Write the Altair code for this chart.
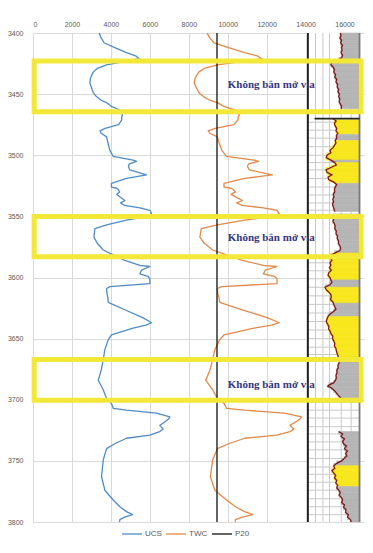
import altair as alt
import pandas as pd

# ---------------- data ----------------
X_MAX = 17000
DEPTH_TICKS = [3400, 3450, 3500, 3550, 3600, 3650, 3700, 3750, 3800]
X_TICKS = [0, 2000, 4000, 6000, 8000, 10000, 12000, 14000, 16000]

depth = [3400, 3404, 3408, 3412, 3416, 3419, 3421, 3423, 3426, 3429, 3432, 3437, 3441, 3445,
         3449, 3452, 3455, 3457, 3460, 3463, 3467, 3469, 3471, 3475, 3478, 3480, 3482, 3485,
         3490, 3496, 3501, 3504, 3505, 3507, 3509, 3512, 3516, 3517.5, 3519, 3523, 3526, 3527,
         3528, 3530, 3532, 3534, 3537, 3539, 3541, 3543, 3545, 3547.5, 3550, 3553, 3557, 3560,
         3564, 3567, 3572, 3577.5, 3581.5, 3586, 3590, 3591, 3594, 3597, 3599, 3601, 3605,
         3607.5, 3609, 3613, 3617, 3620, 3621, 3627, 3633, 3637, 3639, 3641.5, 3647, 3651,
         3659, 3667, 3676, 3684, 3692, 3699, 3703, 3707, 3708.5, 3711, 3714, 3716, 3719, 3721,
         3724, 3726, 3729, 3731.5, 3736, 3740, 3749, 3763, 3774, 3782, 3787.5, 3791.5, 3794,
         3796, 3798, 3800]
ucs = [3400, 3500, 3650, 4200, 4800, 5300, 5450, 4800, 3780, 3300, 3090, 2950, 2920, 3010,
       3100, 3260, 3500, 3780, 4030, 4460, 4600, 4550, 4560, 4400, 3700, 3440, 3500, 3780,
       3850, 3950, 4120, 5140, 5320, 4950, 4900, 4970, 5830, 5320, 4800, 4030, 4030, 4300,
       4380, 4450, 4300, 4460, 4720, 4500, 4700, 5490, 6000, 6090, 5910, 4800, 3780, 3180,
       3150, 3130, 3300, 3610, 4120, 4720, 5490, 6000, 5570, 5490, 5900, 6000, 6000,
       3950, 3780, 3800, 3850, 3860, 3950, 4800, 5660, 6090, 5800, 5140, 4030, 3860,
       3690, 3610, 3500, 3350, 3610, 3780, 4030, 4120, 4800, 6340, 7030, 6950, 6690, 6510,
       6690, 6510, 6000, 4800, 4200, 3780, 3610, 3520, 3690, 4120, 4460, 4800, 5110,
       4700, 4460, 4450]
twc = [8940, 9080, 9290, 10050, 10870, 11560, 11750, 10870, 9470, 8800, 8510, 8320, 8280, 8400,
       8530, 8750, 9080, 9470, 9810, 10400, 10600, 10530, 10540, 10320, 9360, 9000, 9080, 9470,
       9560, 9700, 9940, 11340, 11590, 11080, 11010, 11110, 12300, 11590, 10870, 9810, 9810, 10180,
       10290, 10390, 10180, 10400, 10760, 10460, 10740, 11830, 12530, 12650, 12410, 10870, 9470, 8640,
       8600, 8570, 8800, 9230, 9940, 10760, 11830, 12530, 11940, 11830, 12390, 12530, 12530,
       9700, 9470, 9490, 9560, 9580, 9700, 10870, 12060, 12650, 12250, 11340, 9810, 9580,
       9340, 9230, 9080, 8870, 9230, 9470, 9810, 9940, 10870, 12900, 13800, 13700, 13400, 13200,
       13400, 13200, 12530, 10870, 10050, 9470, 9230, 9110, 9340, 9940, 10400, 10870, 11300,
       10740, 10400, 10390]
p20 = 9450
series_names = ["UCS", "TWC", "P20"]
series_colors = ["#4f8bc9", "#e3894a", "#111111"]

# log strip (image track on the right)
strip_left, strip_right = 14120, 16770
strip_vlines = [14510, 14890, 15230, 15830, 16340]
strip_hlines = [3473, 3479.5, 3486, 3493, 3500, 3506, 3512, 3519, 3526, 3532.5, 3539, 3545,
                3588, 3594.5, 3601, 3608, 3615, 3622, 3629, 3636, 3643, 3650, 3657, 3663,
                3702, 3708.5, 3715, 3722, 3728, 3734.5, 3741, 3748, 3755, 3761, 3767.5, 3774,
                3781, 3787.5, 3794]
spike_depth, spike_from = 3470, 14460

log_depth_a = [3400, 3402, 3404, 3406, 3408, 3410, 3412, 3414, 3416, 3418, 3420, 3422, 3424, 3426,
               3428, 3430, 3432, 3434, 3436, 3438, 3440, 3442, 3444, 3446, 3448, 3450, 3452, 3454,
               3456, 3458, 3460, 3462]
log_value_a = [15780, 15820, 15760, 15850, 15800, 15900, 15840, 15880, 15820, 15900, 15860, 15700,
               15350, 15300, 15420, 15480, 15450, 15540, 15500, 15600, 15560, 15650, 15620, 15700,
               15660, 15740, 15700, 15760, 15720, 15780, 15850, 15820]
log_depth_b = [3470, 3472, 3474, 3476, 3478, 3480, 3482, 3484, 3486, 3488, 3490, 3492, 3494, 3496,
               3498, 3500, 3502, 3504, 3506, 3508, 3510, 3512, 3514, 3516, 3518, 3520, 3522, 3524,
               3526, 3528, 3530, 3532, 3534, 3536, 3538, 3540, 3542, 3544, 3546]
log_value_b = [15400, 15570, 15480, 15520, 15600, 15560, 15660, 15580, 15600, 15520, 15560, 15480,
               15400, 15250, 15300, 15100, 15060, 15300, 15500, 15580, 15300, 15050, 15100, 15350,
               15150, 15200, 15450, 15600, 15520, 15480, 15500, 15420, 15460, 15400, 15440, 15380,
               15420, 15460, 15500]
log_depth_c = [3548, 3550, 3552, 3554, 3556, 3558, 3560, 3562, 3564, 3566, 3568, 3570, 3572, 3574,
               3576, 3578, 3580, 3582, 3584, 3586, 3588, 3590, 3592, 3594, 3596, 3598, 3600, 3602,
               3604, 3606, 3608, 3610, 3612, 3614, 3616, 3618, 3620, 3622, 3624, 3626, 3628, 3630,
               3632, 3634, 3636, 3638, 3640, 3642, 3644, 3646, 3648, 3650, 3652, 3654, 3656, 3658,
               3660, 3662, 3664, 3666, 3668, 3670, 3672, 3674, 3676, 3678, 3680, 3682, 3684, 3686,
               3688, 3689, 3690, 3692, 3694, 3696, 3698, 3699]
log_value_c = [15380, 15420, 15450, 15400, 15480, 15520, 15500, 15580, 15560, 15640, 15620, 15700,
               15680, 15760, 15800, 15760, 15500, 15300, 15280, 15350, 15250, 15300, 15220, 15320,
               15200, 15150, 15250, 15300, 15350, 15250, 15000, 15060, 15200, 15300, 15320, 15280,
               15400, 15450, 15500, 15560, 15420, 15250, 15150, 15100, 15060, 15120, 15200, 15180,
               15260, 15300, 15400, 15380, 15450, 15500, 15480, 15560, 15580, 15620, 15660, 15700,
               15740, 15720, 15660, 15680, 15600, 15620, 15560, 15580, 15540, 15450, 15200, 15140,
               15300, 15450, 15560, 15660, 15780, 15830]
log_depth_d = [3726, 3728, 3730, 3732, 3734, 3736, 3738, 3740, 3742, 3744, 3746, 3748, 3750, 3752,
               3754, 3756, 3758, 3760, 3762, 3764, 3766, 3768, 3770, 3772, 3774, 3776, 3778, 3780,
               3782, 3784, 3786, 3788, 3790, 3792, 3794, 3796, 3798, 3800]
log_value_d = [15700, 15900, 15820, 16000, 15900, 15950, 16100, 16000, 16150, 16050, 16120, 15980,
               15850, 15600, 15450, 15500, 15350, 15450, 15550, 15480, 15600, 15550, 15650, 15600,
               15700, 15780, 15720, 15850, 15900, 15850, 16000, 15950, 16080, 16050, 16200, 16150,
               16300, 16350]

zone_top = [3400, 3471, 3483, 3488, 3504, 3506, 3523, 3548, 3580, 3602, 3608, 3621, 3632, 3666,
            3726, 3754, 3771]
zone_bottom = [3462, 3483, 3488, 3504, 3506, 3523, 3546, 3580, 3602, 3608, 3621, 3632, 3666, 3699,
               3754, 3771, 3800]
zone_kind = ["gray", "yellow", "gray", "yellow", "gray", "yellow", "gray", "gray", "yellow", "gray",
             "yellow", "gray", "yellow", "gray", "gray", "yellow", "gray"]
zone_colors = {"gray": "#b5b5b5", "yellow": "#f8e71c"}

box_top = [3423, 3550, 3667]
box_bottom = [3464.5, 3583, 3700.5]
box_left, box_right = 60, 16850
label_text = ["Không bắn mở vỉa", "Không bắn mở vỉa", "Không bắn mở vỉa"]
label_depth = [3442.5, 3568, 3688]
label_x = 10000

# ---------------- tables ----------------
rows = []
for d, u, t in zip(depth, ucs, twc):
    rows.append({"depth": d, "value": u, "series": "UCS"})
    rows.append({"depth": d, "value": t, "series": "TWC"})
rows.append({"depth": DEPTH_TICKS[0], "value": p20, "series": "P20"})
rows.append({"depth": DEPTH_TICKS[-1], "value": p20, "series": "P20"})
curves = pd.DataFrame(rows)

pieces = [(log_depth_a, log_value_a), (log_depth_b, log_value_b),
          (log_depth_c, log_value_c), (log_depth_d, log_value_d)]
log_rows = []
for i, (ds, vs) in enumerate(pieces):
    for d, v in zip(ds, vs):
        log_rows.append({"depth": d, "value": v, "piece": i})
log_df = pd.DataFrame(log_rows)


def interp(ds, vs, d):
    for k in range(len(ds) - 1):
        if ds[k] <= d <= ds[k + 1]:
            t = (d - ds[k]) / (ds[k + 1] - ds[k])
            return vs[k] + t * (vs[k + 1] - vs[k])
    return vs[-1]


fill_rows = []
for zt, zb, kind in zip(zone_top, zone_bottom, zone_kind):
    for ds, vs in pieces:
        if ds[0] <= zt and zb <= ds[-1]:
            pts = [(zt, interp(ds, vs, zt))]
            pts += [(d, v) for d, v in zip(ds, vs) if zt < d < zb]
            pts.append((zb, interp(ds, vs, zb)))
            for (d0, v0), (d1, v1) in zip(pts[:-1], pts[1:]):
                fill_rows.append({"top": d0, "bottom": d1, "value": min(v0, v1),
                                  "right": strip_right, "col": zone_colors[kind]})
            break
fill_df = pd.DataFrame(fill_rows)

# ---------------- encodings ----------------
xs = alt.Scale(domain=[0, X_MAX], nice=False, zero=False)
ys = alt.Scale(domain=[DEPTH_TICKS[0], DEPTH_TICKS[-1]], reverse=True, nice=False, zero=False)

x_axis = alt.Axis(orient="top", values=X_TICKS, format="d", labelFontSize=7, labelColor="#595959",
                  labelFont="Liberation Sans", grid=True, gridColor="#d9d9d9", domain=False,
                  ticks=False, labelPadding=6, title=None)
y_axis = alt.Axis(values=DEPTH_TICKS, format="d", labelFontSize=7, labelColor="#595959",
                  labelFont="Liberation Sans", grid=True, gridColor="#d9d9d9", domain=False,
                  ticks=False, labelPadding=10, title=None)


def X(f):
    return alt.X(f, scale=xs, axis=x_axis, title=None)


def Y(f):
    return alt.Y(f, scale=ys, axis=y_axis, title=None)


lines = alt.Chart(curves).mark_line(strokeJoin="round").encode(
    x=X("value:Q"),
    y=Y("depth:Q"),
    color=alt.Color("series:N", scale=alt.Scale(domain=series_names, range=series_colors),
                    legend=alt.Legend(title=None, orient="none", legendX=88, legendY=490,
                                      direction="horizontal", symbolType="stroke",
                                      symbolSize=400, symbolStrokeWidth=1.6, labelFontSize=8,
                                      labelColor="#595959", labelFont="Liberation Sans",
                                      labelOffset=2, columnPadding=1, padding=0)),
    strokeWidth=alt.StrokeWidth("series:N", scale=alt.Scale(domain=series_names,
                                                            range=[1.3, 1.3, 2.0]), legend=None),
    order=alt.Order("depth:Q"),
)

strip_bg = alt.Chart(pd.DataFrame({"l": [strip_left], "r": [strip_right],
                                   "t": [DEPTH_TICKS[0]], "b": [DEPTH_TICKS[-1]]})).mark_rect(
    color="white").encode(x=X("l:Q"), x2="r:Q", y=Y("t:Q"), y2="b:Q")

strip_v = alt.Chart(pd.DataFrame({"v": strip_vlines})).mark_rule(
    color="#c9c9c9", strokeWidth=1).encode(x=X("v:Q"))
strip_h = alt.Chart(pd.DataFrame({"d": strip_hlines, "l": strip_left, "r": strip_right})).mark_rule(
    color="#c9c9c9", strokeWidth=1).encode(y=Y("d:Q"), x=X("l:Q"), x2="r:Q")

fills = alt.Chart(fill_df).mark_rect(strokeWidth=0.6).encode(
    x=X("value:Q"), x2="right:Q", y=Y("top:Q"), y2="bottom:Q",
    fill=alt.Fill("col:N", scale=None), stroke=alt.Stroke("col:N", scale=None))

log_line = alt.Chart(log_df).mark_line(color="#7e1818", strokeWidth=1.3).encode(
    x=X("value:Q"), y=Y("depth:Q"), detail="piece:N", order=alt.Order("depth:Q"))

strip_edges = alt.Chart(pd.DataFrame({"v": [strip_left, strip_right],
                                      "c": ["#1a1a1a", "#7a7a7a"]})).mark_rule(
    strokeWidth=1.8).encode(x=X("v:Q"), stroke=alt.Stroke("c:N", scale=None))

spike = alt.Chart(pd.DataFrame({"d": [spike_depth], "l": [spike_from], "r": [strip_right]})).mark_rule(
    color="#222222", strokeWidth=1.6).encode(y=Y("d:Q"), x=X("l:Q"), x2="r:Q")

boxes = alt.Chart(pd.DataFrame({"t": box_top, "b": box_bottom, "l": box_left, "r": box_right})).mark_rect(
    fillOpacity=0, stroke="#f3e838", strokeWidth=5).encode(
    x=X("l:Q"), x2="r:Q", y=Y("t:Q"), y2="b:Q")

labels = alt.Chart(pd.DataFrame({"d": label_depth, "x": label_x, "t": label_text})).mark_text(
    align="left", baseline="middle", font="Liberation Serif", fontWeight="bold", fontSize=11,
    color="#36367e").encode(x=X("x:Q"), y=Y("d:Q"), text="t:N")

chart = alt.layer(lines, strip_bg, strip_v, strip_h, fills, log_line, strip_edges, spike,
                  boxes, labels).properties(
    width=331, height=489,
    autosize=alt.AutoSizeParams(type="none"),
    padding={"left": 25, "top": 25, "right": 1, "bottom": 17},
    background="white",
).configure_view(stroke=None)

chart.save("out.html", embed_options={"renderer": "svg", "actions": False})
